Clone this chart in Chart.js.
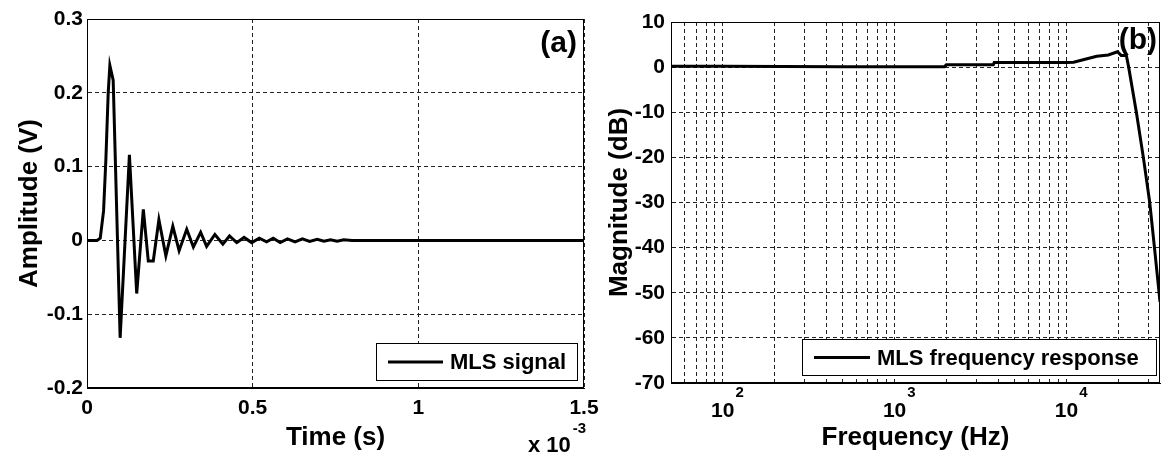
<!DOCTYPE html>
<html><head><meta charset="utf-8">
<script src="https://cdn.jsdelivr.net/npm/chart.js@4"></script>
<style>
html,body{margin:0;padding:0;background:#fff;}
#wrap{position:relative;width:1165px;height:457px;overflow:hidden;background:#fff;}
canvas{position:absolute;top:0;}
#c1{left:0;} #c2{left:600px;}
</style></head><body>
<div id="wrap"><canvas id="c1" width="600" height="457"></canvas><canvas id="c2" width="565" height="457"></canvas></div>
<script>
// ---- Panel (a): MLS signal (time in units of 1e-3 s) ----
const timeMs = [0, 0.03, 0.04, 0.05, 0.057, 0.064, 0.069, 0.079, 0.1, 0.128, 0.15, 0.17, 0.185, 0.2, 0.217, 0.238, 0.259, 0.278, 0.301, 0.321, 0.343, 0.361, 0.386, 0.41, 0.43, 0.452, 0.474, 0.497, 0.52, 0.542, 0.562, 0.583, 0.605, 0.628, 0.65, 0.672, 0.695, 0.715, 0.735, 0.755, 0.775, 0.8, 1.5];
const amplitudeV = [0, 0, 0.003, 0.04, 0.11, 0.2, 0.237, 0.217, -0.132, 0.116, -0.072, 0.042, -0.028, -0.028, 0.028, -0.021, 0.019, -0.014, 0.015, -0.009, 0.011, -0.008, 0.008, -0.005, 0.006, -0.003, 0.004, -0.003, 0.003, -0.002, 0.003, -0.003, 0.002, -0.002, 0.002, -0.0015, 0.0015, -0.001, 0.001, -0.001, 0.001, 0, 0];
const timeTicks = [0, 0.5, 1, 1.5];
const ampTicks = [-0.2, -0.1, 0, 0.1, 0.2, 0.3];

// ---- Panel (b): MLS frequency response ----
const freqHz = [50, 100, 500, 1000, 1950, 2000, 3750, 3800, 10000, 11000, 13000, 15000, 17500, 19800, 20800, 22300, 23000, 25500, 28000, 30500, 32500, 35000];
const magnitudeDb = [0.2, 0.2, 0.1, 0.1, 0.1, 0.5, 0.5, 1.0, 1.0, 1.1, 1.8, 2.4, 2.7, 3.4, 2.6, 2.6, 0, -10, -20, -30, -40, -52];
const freqMajorTicks = [100, 1000, 10000];
const freqDecades = [10, 100, 1000, 10000];
const magTicks = [-70, -60, -50, -40, -30, -20, -10, 0, 10];

const FONT = "'Liberation Sans', Arial, Helvetica, sans-serif";
const TICK_SIZE = 21;
Chart.defaults.color = '#000';
Chart.defaults.font.family = FONT;

const gridStyle = {color:'#222', lineWidth:1, drawTicks:false};
const borderStyle = {display:true, color:'#000', width:1, dash:[4,3]};
const noPad = s => { s.paddingLeft = 0; s.paddingRight = 0; s.paddingTop = 0; s.paddingBottom = 0; };

const framePlugin = {
  id:'frame',
  afterDatasetsDraw(chart, args, o){
    const ctx = chart.ctx, a = chart.chartArea;
    ctx.save();
    ctx.setLineDash([]);
    ctx.strokeStyle = '#000'; ctx.lineWidth = 1;
    ctx.strokeRect(Math.round(a.left)+0.5, Math.round(a.top)+0.5, Math.round(a.right-a.left)-1, Math.round(a.bottom-a.top)-1);
    // legend box
    const ds = chart.data.datasets[0];
    const bx = a.right - o.legRight - o.legW, by = a.bottom - o.legBottom - o.legH;
    ctx.fillStyle = '#fff';
    ctx.fillRect(bx, by, o.legW, o.legH);
    ctx.strokeRect(Math.round(bx)+0.5, Math.round(by)+0.5, o.legW, o.legH);
    const cy = by + o.legH/2 + 0.5;
    ctx.strokeStyle = ds.borderColor; ctx.lineWidth = ds.borderWidth;
    ctx.beginPath(); ctx.moveTo(bx + 12, cy); ctx.lineTo(bx + 12 + o.lineLen, cy); ctx.stroke();
    ctx.fillStyle = '#000';
    ctx.font = 'bold 22px ' + FONT;
    ctx.textAlign = 'left'; ctx.textBaseline = 'middle';
    ctx.fillText(ds.label, bx + 19 + o.lineLen, cy + 1);
    // panel label
    ctx.font = 'bold 30px ' + FONT;
    ctx.textAlign = 'right';
    ctx.fillText(o.panel, a.right - o.panelRight, a.top + o.panelTop);
    // axis multiplier
    if (o.expo) {
      ctx.textAlign = 'left'; ctx.textBaseline = 'alphabetic';
      ctx.font = 'bold 22px ' + FONT;
      ctx.fillText('x 10', 528, 452);
      const w = ctx.measureText('x 10').width;
      ctx.font = 'bold 15px ' + FONT;
      ctx.fillText('-3', 528 + w + 2, 433);
    }
    // exponents of log tick labels
    if (o.logExp) {
      const sx = chart.scales.x;
      ctx.font = 'bold ' + TICK_SIZE + 'px ' + FONT;
      const hw = ctx.measureText('10').width / 2;
      ctx.font = 'bold 15px ' + FONT;
      ctx.textAlign = 'left'; ctx.textBaseline = 'alphabetic';
      freqMajorTicks.forEach(v => {
        const px = sx.getPixelForValue(v);
        ctx.fillText(String(Math.round(Math.log10(v))), px + hw + 1, 397);
      });
    }
    ctx.restore();
  }
};

new Chart(document.getElementById('c1'), {
  type:'line',
  data:{datasets:[{label:'MLS signal', data: timeMs.map((t,i)=>({x:t, y:amplitudeV[i]})), borderColor:'#000', borderWidth:3, pointRadius:0, tension:0, fill:false}]},
  options:{
    responsive:false, animation:false, devicePixelRatio:1,
    layout:{padding:{left:0, top:19, right:16, bottom:0}},
    plugins:{legend:{display:false}, tooltip:{enabled:false},
      frame:{legRight:7, legBottom:8, legW:201, legH:37, lineLen:55, panel:'(a)', panelRight:7, panelTop:25, expo:true}},
    scales:{
      x:{type:'linear', min:0, max:1.5,
        afterBuildTicks:s=>{s.ticks = timeTicks.map(v=>({value:v}));},
        afterFit:s=>{s.height = 69; noPad(s);},
        grid:gridStyle, border:borderStyle,
        ticks:{autoSkip:false, maxRotation:0, minRotation:0, padding:8, font:{size:TICK_SIZE, weight:'bold'}, callback:v=>String(v)},
        title:{display:true, text:'Time (s)', font:{size:26, weight:'bold'}, padding:{top:0, bottom:4}}},
      y:{type:'linear', min:-0.2, max:0.3,
        afterBuildTicks:s=>{s.ticks = ampTicks.map(v=>({value:v}));},
        afterFit:s=>{s.width = 87; noPad(s);},
        grid:gridStyle, border:borderStyle,
        ticks:{padding:4, font:{size:TICK_SIZE, weight:'bold'}, callback:v=>String(Math.round(v*10)/10)},
        title:{display:true, text:'Amplitude (V)', font:{size:26, weight:'bold'}, padding:{top:14, bottom:0}}}
    }
  },
  plugins:[framePlugin]
});

const freqGrid = [];
freqDecades.forEach(d=>{ for (let m=1;m<=9;m++){ const v=m*d; if (v>=50 && v<=35000) freqGrid.push(v); } });

new Chart(document.getElementById('c2'), {
  type:'line',
  data:{datasets:[{label:'MLS frequency response', data: freqHz.map((f,i)=>({x:f, y:magnitudeDb[i]})), borderColor:'#000', borderWidth:3, pointRadius:0, tension:0, fill:false}]},
  options:{
    responsive:false, animation:false, devicePixelRatio:1,
    layout:{padding:{left:0, top:22, right:5, bottom:0}},
    plugins:{legend:{display:false}, tooltip:{enabled:false},
      frame:{legRight:4, legBottom:8, legW:354, legH:36, lineLen:56, panel:'(b)', panelRight:3, panelTop:19, expo:false, logExp:true}},
    scales:{
      x:{type:'logarithmic', min:50, max:35000,
        afterBuildTicks:s=>{s.ticks = freqGrid.map(v=>({value:v}));},
        afterFit:s=>{s.height = 74; noPad(s);},
        grid:gridStyle, border:borderStyle,
        ticks:{autoSkip:false, maxRotation:0, minRotation:0, padding:16, font:{size:TICK_SIZE, weight:'bold'},
          callback:v=> freqMajorTicks.includes(v) ? '10' : ''},
        title:{display:true, text:'Frequency (Hz)', font:{size:26, weight:'bold'}, padding:{top:0, bottom:4}}},
      y:{type:'linear', min:-70, max:10,
        afterBuildTicks:s=>{s.ticks = magTicks.map(v=>({value:v}));},
        afterFit:s=>{s.width = 71; noPad(s);},
        grid:gridStyle, border:borderStyle,
        ticks:{padding:6, font:{size:TICK_SIZE, weight:'bold'}, callback:v=>String(v)},
        title:{display:true, text:'Magnitude (dB)', font:{size:26, weight:'bold'}, padding:{top:4, bottom:0}}}
    }
  },
  plugins:[framePlugin]
});
</script>
</body></html>
